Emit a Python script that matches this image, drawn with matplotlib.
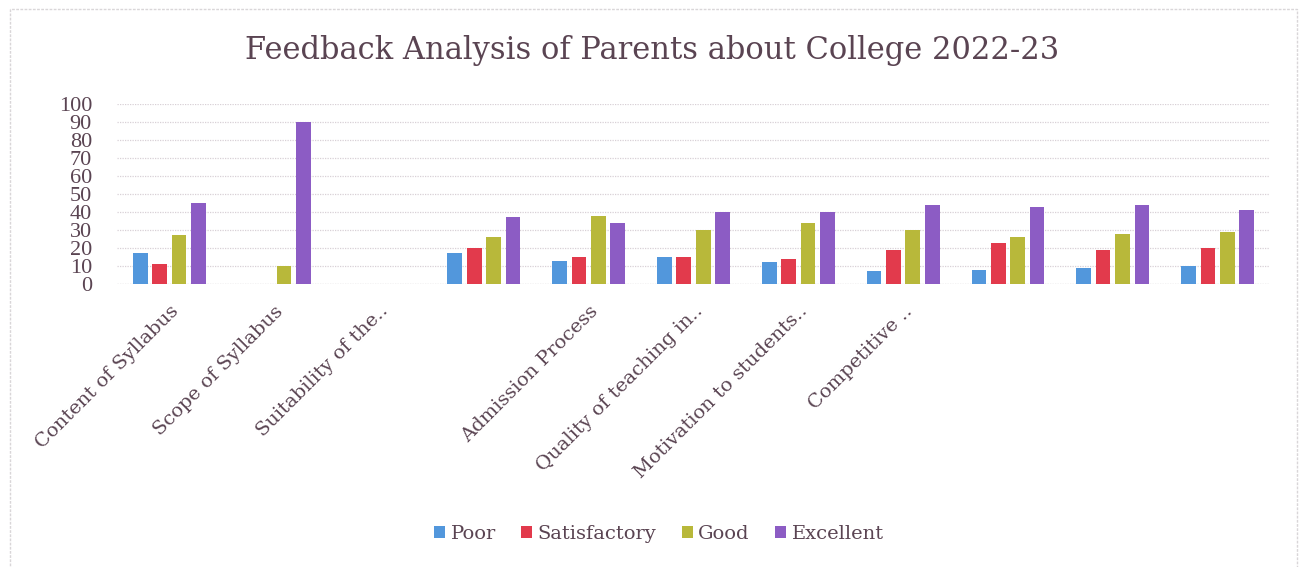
import matplotlib
matplotlib.use("Agg")
import matplotlib.pyplot as plt
import matplotlib.patches as mpatches
import numpy as np

categories = ["Content of Syllabus", "Scope of Syllabus", "Suitability of the..", "",
              "Admission Process", "Quality of teaching in..", "Motivation to students..",
              "Competitive ..", "", "", ""]
series_names = ["Poor", "Satisfactory", "Good", "Excellent"]
poor = [17, 0, 0, 17, 13, 15, 12, 7, 8, 9, 10]
satisfactory = [11, 0, 0, 20, 15, 15, 14, 19, 23, 19, 20]
good = [27, 10, 0, 26, 38, 30, 34, 30, 26, 28, 29]
excellent = [45, 90, 0, 37, 34, 40, 40, 44, 43, 44, 41]
yticks = list(range(0, 101, 10))

colors = ["#5297dc", "#e23a4c", "#b8b83a", "#8c5cc4"]
text_color = "#5a4452"
serif = ["DejaVu Serif"]
serif2 = ["Liberation Serif", "DejaVu Serif"]

W, H = 1303, 567
fig = plt.figure(figsize=(W / 100, H / 100), dpi=100)
fig.patch.set_facecolor("white")

# chart border
fig.add_artist(mpatches.Rectangle((10 / W, -0.01), (1297 - 10) / W, 1 - 9 / H + 0.01,
                                  transform=fig.transFigure, fill=False,
                                  edgecolor="#d9d6d8", linewidth=1.0, linestyle=(0, (2, 1))))

ax = fig.add_axes([117 / W, 1 - 284 / H, (1270 - 117) / W, (284 - 104) / H])
x = np.arange(len(categories))
width = 0.14
step = 0.185
data = [poor, satisfactory, good, excellent]
for i, (vals, c, name) in enumerate(zip(data, colors, series_names)):
    ax.bar(x + (i - 1.5) * step, vals, width=width, color=c, label=name, zorder=3)

ax.set_xlim(-0.5, len(categories) - 0.5)
ax.set_ylim(0, 100)
ax.set_yticks(yticks)
ax.set_yticklabels([str(v) for v in yticks], fontsize=16, color=text_color, family=serif2)
ax.yaxis.grid(True, color="#d8d0d6", linestyle=(0, (1, 1)), linewidth=0.9, zorder=0)
ax.set_xticks(x)
ax.set_xticklabels(categories, rotation=45, ha="right", rotation_mode="anchor",
                   fontsize=14, color=text_color, family=serif)
ax.tick_params(axis="x", length=0, pad=13)
ax.tick_params(axis="y", length=0, pad=18)
for s in ax.spines.values():
    s.set_visible(False)
ax.axhline(0, color="#d8d0d6", linewidth=0.9, linestyle=(0, (1, 1)), zorder=1)

fig.text(652 / W, 1 - 51 / H, "Feedback Analysis of Parents about College 2022-23",
         ha="center", va="center", fontsize=22, color=text_color, family=serif)

leg = fig.legend(loc="center", bbox_to_anchor=(659 / W, 1 - 534 / H), ncol=4, frameon=False,
                 handlelength=0.55, handleheight=0.55, handletextpad=0.3,
                 columnspacing=1.3, prop={"family": serif, "size": 14})
for t in leg.get_texts():
    t.set_color(text_color)

fig.savefig("out.png", dpi=100, facecolor="white")
